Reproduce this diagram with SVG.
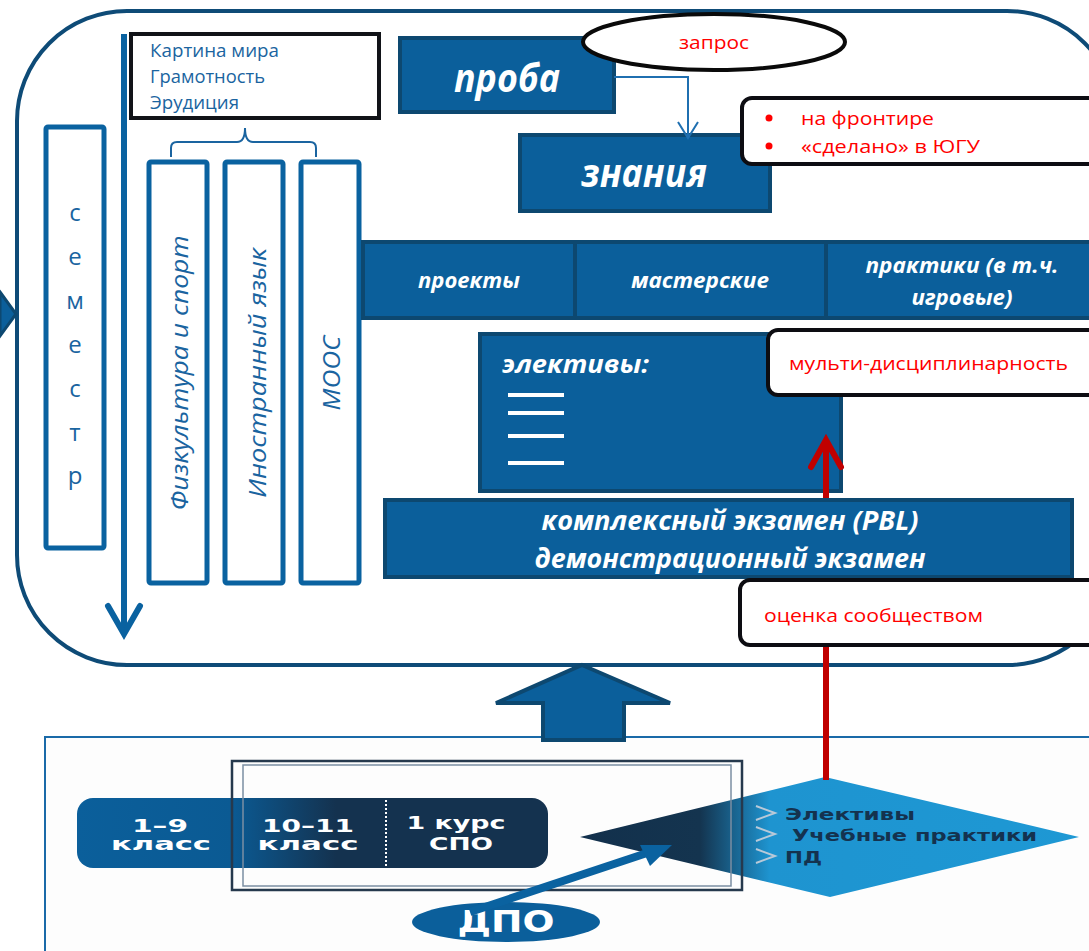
<svg xmlns="http://www.w3.org/2000/svg" width="1089" height="951" viewBox="0 0 1089 951">
<defs>
<style>
.blk{fill:#0b5f9b;stroke:#0d4870;stroke-width:4}
.wt{fill:#fff;font-family:"Open Sans","Noto Sans",sans-serif;font-weight:bold;font-style:italic;text-anchor:middle}
.wts{fill:#fff;font-family:"Open Sans","Noto Sans",sans-serif;font-weight:bold;font-style:italic;text-anchor:start}
.red{fill:#ff0000;font-family:"Open Sans","Noto Sans",sans-serif;font-size:19px}
.blu{fill:#1a64a0;font-family:"Open Sans","Noto Sans",sans-serif}
.vbox{fill:#fff;stroke:#0a62a0;stroke-width:5}
.call{fill:#fff;stroke:#0d0d12;stroke-width:4}
.pill{fill:#fff;font-family:"DejaVu Sans",sans-serif;font-weight:bold;text-anchor:middle;font-size:17px}
.dia{fill:#14324f;font-family:"DejaVu Sans",sans-serif;font-weight:bold;font-size:15px}
</style>
<linearGradient id="pillg" x1="77" y1="0" x2="548" y2="0" gradientUnits="userSpaceOnUse">
<stop offset="0" stop-color="#0b5f9b"/><stop offset="0.33" stop-color="#0b5a93"/><stop offset="0.55" stop-color="#14324f"/><stop offset="1" stop-color="#14324f"/>
</linearGradient>
<linearGradient id="diag" x1="580" y1="0" x2="1079" y2="0" gradientUnits="userSpaceOnUse">
<stop offset="0" stop-color="#12304c"/><stop offset="0.24" stop-color="#14344f"/><stop offset="0.38" stop-color="#1e94d0"/><stop offset="1" stop-color="#1e98d4"/>
</linearGradient>
</defs>
<rect width="1089" height="951" fill="#fff"/>

<g id="main-frame">
<rect x="17" y="11" width="1100" height="654" rx="110" ry="110" fill="#fff" stroke="#0e4b77" stroke-width="4"/>
</g>

<g id="bottom-panel">
<rect x="45" y="737" width="1060" height="230" fill="#fdfdfd" stroke="#1a6aa8" stroke-width="2"/>
</g>

<g id="semestr">
<rect class="vbox" x="46" y="127" width="58" height="421" rx="2"/>
<g class="blu" font-size="24" text-anchor="middle">
<text x="75" y="221">с</text>
<text x="75" y="265">е</text>
<text x="75" y="309">м</text>
<text x="75" y="353">е</text>
<text x="75" y="397">с</text>
<text x="75" y="441">т</text>
<text x="75" y="484">р</text>
</g>
</g>

<g id="literacy">
<rect x="131" y="34" width="248" height="84" fill="#fff" stroke="#111318" stroke-width="4"/>
<text class="blu" font-size="18" x="150" y="57" textLength="129" lengthAdjust="spacingAndGlyphs">Картина мира</text>
<text class="blu" font-size="18" x="150" y="83" textLength="115" lengthAdjust="spacingAndGlyphs">Грамотность</text>
<text class="blu" font-size="18" x="150" y="109" textLength="89" lengthAdjust="spacingAndGlyphs">Эрудиция</text>
</g>

<g id="brace">
<path d="M171,157 V148 Q171,142 177,142 H237 Q245,142 245,128 Q245,142 253,142 H310 Q316,142 316,148 V157" fill="none" stroke="#1a64a0" stroke-width="2"/>
</g>

<g id="fizkultura">
<rect class="vbox" x="149" y="162" width="58" height="421" rx="2"/>
<text class="blu" font-size="24" font-style="italic" text-anchor="middle" dominant-baseline="central" transform="translate(178,373) rotate(-90)" textLength="275" lengthAdjust="spacingAndGlyphs">Физкультура и спорт</text>
</g>
<g id="inyaz">
<rect class="vbox" x="225" y="162" width="58" height="421" rx="2"/>
<text class="blu" font-size="24" font-style="italic" text-anchor="middle" dominant-baseline="central" transform="translate(256,373) rotate(-90)" textLength="250" lengthAdjust="spacingAndGlyphs">Иностранный язык</text>
</g>
<g id="mooc">
<rect class="vbox" x="301" y="162" width="58" height="421" rx="2"/>
<text class="blu" font-size="24" font-style="italic" text-anchor="middle" dominant-baseline="central" transform="translate(330,373) rotate(-90)" textLength="75" lengthAdjust="spacingAndGlyphs">MOOC</text>
</g>

<g id="proba">
<rect class="blk" x="400" y="38" width="214" height="74"/>
<text class="wt" x="507" y="92" font-size="40" textLength="106" lengthAdjust="spacingAndGlyphs">проба</text>
</g>

<g id="zapros">
<ellipse cx="714" cy="42" rx="131" ry="28" fill="#fff" stroke="#0a0a0a" stroke-width="4"/>
<text class="red" x="714" y="49" text-anchor="middle" textLength="70" lengthAdjust="spacingAndGlyphs">запрос</text>
</g>

<g id="znaniya">
<rect class="blk" x="520" y="135" width="250" height="76"/>
<text class="wt" x="644" y="187" font-size="40" textLength="126" lengthAdjust="spacingAndGlyphs">знания</text>
</g>

<g id="frontier-note">
<rect class="call" x="742" y="98" width="380" height="66" rx="10"/>
<circle cx="769" cy="118" r="3.5" fill="#ff0000"/>
<circle cx="769" cy="146" r="3.5" fill="#ff0000"/>
<text class="red" x="801" y="125" textLength="133" lengthAdjust="spacingAndGlyphs">на фронтире</text>
<text class="red" x="801" y="153" textLength="179" lengthAdjust="spacingAndGlyphs">«сделано» в ЮГУ</text>
</g>

<g id="proekty">
<rect class="blk" x="363" y="242" width="212" height="76"/>
<text class="wt" x="469" y="288" font-size="22" textLength="102" lengthAdjust="spacingAndGlyphs">проекты</text>
</g>
<g id="masterskie">
<rect class="blk" x="575" y="242" width="251" height="76"/>
<text class="wt" x="700" y="288" font-size="22" textLength="138" lengthAdjust="spacingAndGlyphs">мастерские</text>
</g>
<g id="praktiki">
<rect class="blk" x="826" y="242" width="275" height="76"/>
<text class="wt" x="962" y="273" font-size="22" textLength="193" lengthAdjust="spacingAndGlyphs">практики (в т.ч.</text>
<text class="wt" x="962" y="305" font-size="22" textLength="101" lengthAdjust="spacingAndGlyphs">игровые)</text>
</g>

<g id="elektivy">
<rect class="blk" x="480" y="334" width="361" height="157"/>
<text class="wts" x="502" y="373" font-size="25" textLength="147" lengthAdjust="spacingAndGlyphs">элективы:</text>
<g fill="#fff">
<rect x="508" y="393" width="56" height="4"/>
<rect x="508" y="411" width="56" height="4"/>
<rect x="508" y="434" width="56" height="4"/>
<rect x="508" y="461" width="56" height="4"/>
</g>
</g>

<g id="multi-note">
<rect class="call" x="768" y="330" width="340" height="65" rx="10"/>
<text class="red" x="789" y="370" textLength="279" lengthAdjust="spacingAndGlyphs">мульти-дисциплинарность</text>
</g>

<g id="exam">
<rect class="blk" x="385" y="500" width="687" height="77"/>
<text class="wt" x="730" y="530" font-size="26" textLength="377" lengthAdjust="spacingAndGlyphs">комплексный экзамен (PBL)</text>
<text class="wt" x="730" y="568" font-size="26" textLength="391" lengthAdjust="spacingAndGlyphs">демонстрационный экзамен</text>
</g>

<g id="pill">
<rect x="77" y="798" width="471" height="70" rx="16" fill="url(#pillg)"/>
<line x1="386" y1="800" x2="386" y2="866" stroke="#fff" stroke-width="2" stroke-dasharray="2,2"/>
<text class="pill" x="160" y="832" textLength="56" lengthAdjust="spacingAndGlyphs">1–9</text>
<text class="pill" x="161" y="850" textLength="100" lengthAdjust="spacingAndGlyphs">класс</text>
<text class="pill" x="308" y="832" textLength="92" lengthAdjust="spacingAndGlyphs">10–11</text>
<text class="pill" x="308" y="850" textLength="101" lengthAdjust="spacingAndGlyphs">класс</text>
<text class="pill" x="456" y="829" textLength="99" lengthAdjust="spacingAndGlyphs">1 курс</text>
<text class="pill" x="461" y="850" textLength="64" lengthAdjust="spacingAndGlyphs">СПО</text>
</g>

<g id="diamond">
<polygon points="580,837 825,777 1079,837 830,897" fill="url(#diag)"/>
<g fill="none" stroke="#b9c9d8" stroke-width="2">
<polyline points="756,806 775,813 756,820"/>
<polyline points="756,827 775,834 756,841"/>
<polyline points="756,849 775,856 756,863"/>
</g>
<text class="dia" x="785" y="820" textLength="130" lengthAdjust="spacingAndGlyphs">Элективы</text>
<text class="dia" x="792" y="841" textLength="245" lengthAdjust="spacingAndGlyphs">Учебные практики</text>
<text class="dia" x="785" y="863" textLength="37" lengthAdjust="spacingAndGlyphs">ПД</text>
</g>

<g id="frame">
<rect x="232" y="761" width="510" height="129" fill="none" stroke="#26394d" stroke-width="2.5"/>
<rect x="243" y="765" width="488" height="121" fill="none" stroke="#7b8ea2" stroke-width="1.5"/>
</g>

<g id="dpo">
<ellipse cx="506" cy="922" rx="94" ry="20" fill="#0b5f9b"/>
<text x="506" y="932" fill="#fff" font-family="DejaVu Sans,sans-serif" font-weight="bold" font-size="30" text-anchor="middle" textLength="97" lengthAdjust="spacingAndGlyphs">ДПО</text>
</g>

<g id="notes-bottom">
<rect class="call" x="740" y="580" width="370" height="65" rx="10"/>
<text class="red" x="764" y="622" textLength="219" lengthAdjust="spacingAndGlyphs">оценка сообществом</text>
</g>

<g id="connectors">
<polygon points="0,292 16,314 0,336" fill="#0b5f9b" stroke="#0d4870" stroke-width="3"/>
<line x1="124" y1="34" x2="124" y2="632" stroke="#0a62a0" stroke-width="6"/>
<polyline points="108,606 124,634 140,606" fill="none" stroke="#0a62a0" stroke-width="6" stroke-linecap="round" stroke-linejoin="miter"/>
<polyline points="614,77 688,77 688,137" fill="none" stroke="#1f6fb0" stroke-width="2"/>
<polyline points="678,122 688,138 698,122" fill="none" stroke="#1f6fb0" stroke-width="2"/>
<polygon points="582,665 670,703 624,703 624,740 543,740 543,703 496,703" fill="#0b5f9b" stroke="#0d4870" stroke-width="4"/>
<line x1="826" y1="780" x2="826" y2="647" stroke="#c00000" stroke-width="6"/>
<line x1="826" y1="498" x2="826" y2="440" stroke="#c00000" stroke-width="6"/>
<polyline points="811,467 826,440 841,467" fill="none" stroke="#c00000" stroke-width="6" stroke-linecap="round"/>
<line x1="470" y1="912" x2="650" y2="852" stroke="#0a62a0" stroke-width="8"/>
<polygon points="672,845 640,845 650,866" fill="#0a62a0"/>
</g>
</svg>
